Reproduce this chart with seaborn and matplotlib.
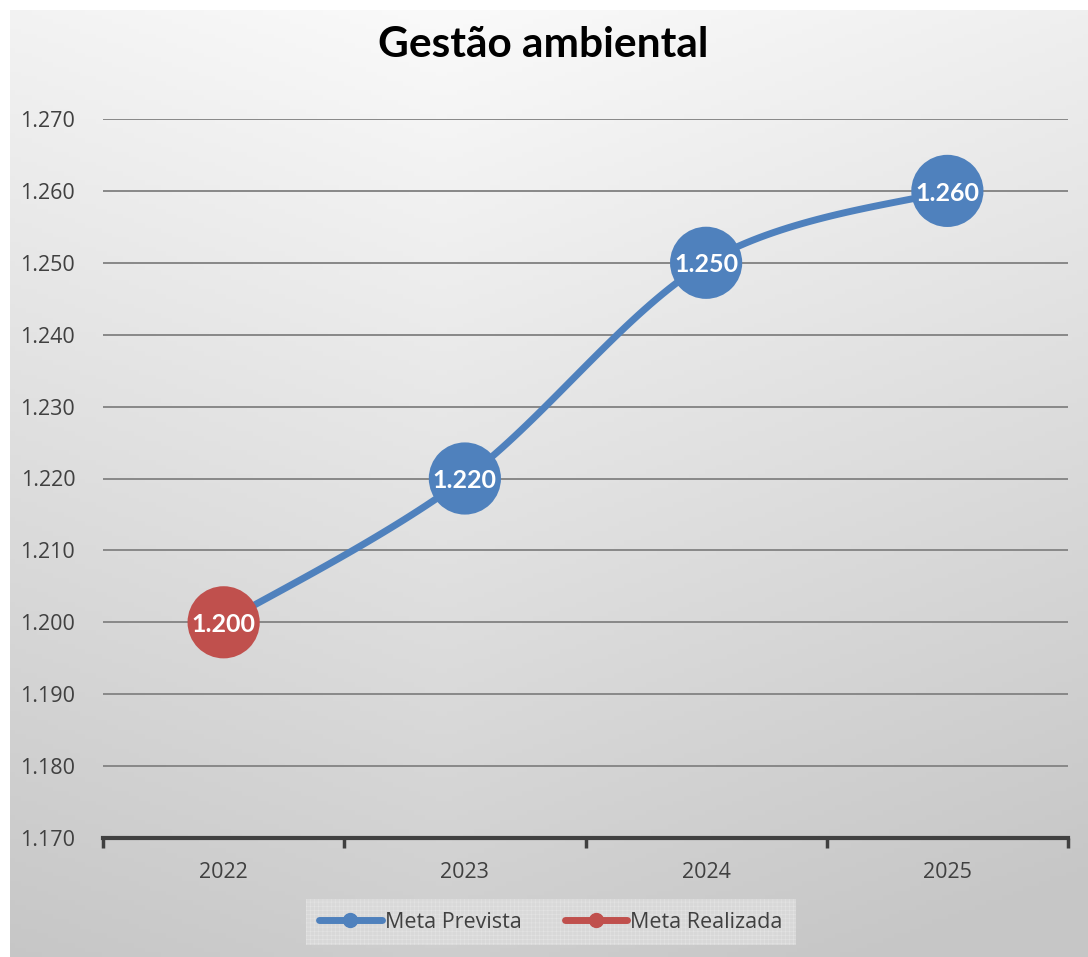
import matplotlib
matplotlib.use("Agg")
import matplotlib.pyplot as plt
from matplotlib.lines import Line2D
from matplotlib.ticker import FuncFormatter, MultipleLocator
import numpy as np
import pandas as pd
import seaborn as sns

# data
years = ["2022", "2023", "2024", "2025"]
meta_prevista = [1200, 1220, 1250, 1260]
meta_realizada = [1200, None, None, None]
title = "Gestão ambiental"
series_names = ["Meta Prevista", "Meta Realizada"]

BLUE = "#4F81BD"
RED = "#C0504D"

sns.set_theme(style="white")
plt.rcParams["font.family"] = ["Open Sans", "DejaVu Sans"]
plt.rcParams["hatch.linewidth"] = 0.4

fig = plt.figure(figsize=(10.88, 9.57), dpi=100)

# gradient background of the chart area
bg = fig.add_axes([10 / 1088, 0, 1 - 10 / 1088, 1 - 10 / 957], zorder=-10)
yy, xx = np.mgrid[0:1:200j, 0:1:200j]
shade = 250 - 52 * np.clip(0.85 * yy + 0.35 * np.abs(xx - 0.4), 0, 1)
bg.imshow(np.dstack([shade] * 3).astype(np.uint8), aspect="auto", extent=[0, 1, 1, 0])
bg.set_axis_off()

ax = fig.add_axes([103 / 1088, 1 - 838 / 957, (1068 - 103) / 1088, (838 - 119) / 957])
ax.set_facecolor("none")

x = np.arange(len(years))
y = np.array(meta_prevista, dtype=float)

# Excel-like smoothed line (Catmull-Rom)
p = np.column_stack([x, y])
pts = np.vstack([p[0], p, p[-1]])
curve = []
for i in range(1, len(pts) - 2):
    p0, p1, p2, p3 = pts[i - 1], pts[i], pts[i + 1], pts[i + 2]
    c1 = p1 + (p2 - p0) / 6
    c2 = p2 - (p3 - p1) / 6
    t = np.linspace(0, 1, 40)[:, None]
    seg = (1 - t) ** 3 * p1 + 3 * (1 - t) ** 2 * t * c1 + 3 * (1 - t) * t ** 2 * c2 + t ** 3 * p2
    curve.append(seg)
curve = np.vstack(curve)
smooth = pd.DataFrame({"x": curve[:, 0], "y": curve[:, 1]})
sns.lineplot(data=smooth, x="x", y="y", sort=False, color=BLUE, lw=5, ax=ax, zorder=3)

pts_df = pd.DataFrame({"x": x, "y": y,
                       "serie": [series_names[1] if v is not None else series_names[0]
                                 for v in meta_realizada]})
sns.scatterplot(data=pts_df, x="x", y="y", hue="serie",
                palette={series_names[0]: BLUE, series_names[1]: RED},
                s=2700, linewidth=0, legend=False, ax=ax, zorder=4)

for xi, yi in zip(x, y):
    ax.text(xi, yi - 0.3, f"{yi:,.0f}".replace(",", "."), ha="center", va="center",
            color="white", fontsize=18, fontweight="bold", family=["Lato", "DejaVu Sans"],
            zorder=5)

ax.set_xlim(-0.5, len(years) - 0.5)
ax.set_ylim(1170, 1270)
ax.yaxis.set_major_locator(MultipleLocator(10))
ax.yaxis.set_major_formatter(FuncFormatter(lambda v, _: f"{v:,.0f}".replace(",", ".")))
ax.grid(axis="y", color="#888888", lw=1.4)
ax.grid(axis="x", visible=False)
ax.set_axisbelow(True)

ax.set_xticks(x)
ax.set_xticklabels(years)
ax.set_xticks(np.arange(-0.5, len(years)), minor=True)
ax.tick_params(axis="x", which="major", bottom=False, length=0, pad=17, labelsize=15.5,
               labelcolor="#404040")
ax.tick_params(axis="x", which="minor", bottom=True, length=7, width=2.5, color="#404040",
               direction="out")
ax.tick_params(axis="y", length=0, pad=20, labelsize=15.5, labelcolor="#404040")
ax.set_xlabel("")
ax.set_ylabel("")
for s in ["top", "right", "left"]:
    ax.spines[s].set_visible(False)
ax.spines["bottom"].set_color("#404040")
ax.spines["bottom"].set_linewidth(3)

fig.text(543 / 1088, 1 - 45 / 957, title, ha="center", va="center",
         fontsize=30.5, fontweight="bold", color="black", family=["Lato", "DejaVu Sans"])

handles = [Line2D([], [], color=BLUE, lw=5, marker="o", markersize=10),
           Line2D([], [], color=RED, lw=5, marker="o", markersize=10)]
leg = fig.legend(handles, series_names, loc="center", bbox_to_anchor=(551 / 1088, 1 - 922 / 957),
                 ncol=2, frameon=True, fontsize=15.5, handlelength=2.9, handletextpad=0.15,
                 columnspacing=2.0, borderpad=0.6, borderaxespad=0, fancybox=False,
                 labelcolor="#404040")
frame = leg.get_frame()
frame.set_facecolor("#dcdcdc")
frame.set_edgecolor("#e6e6e6")
frame.set_linewidth(0)
frame.set_hatch("++++")

fig.savefig("out.png", dpi=100)
